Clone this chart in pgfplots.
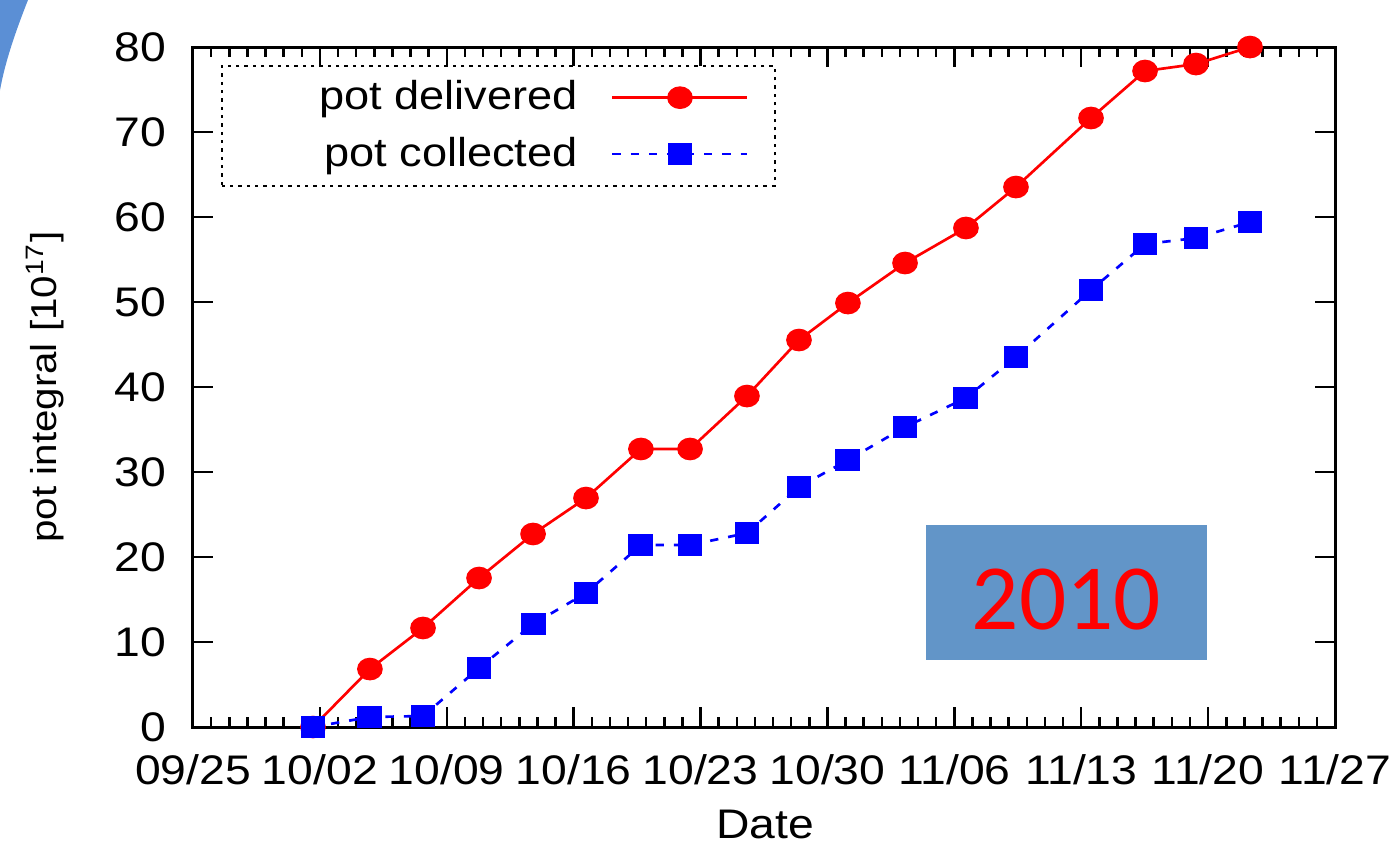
\documentclass[border=0pt]{standalone}
\usepackage{fontspec}
\setmainfont{Liberation Sans}[FakeStretch=1.12]
\newfontfamily\carlito{Carlito}
\usepackage{pgfplots}
\pgfplotsset{compat=1.18}
\definecolor{boxblue}{RGB}{98,149,200}
\definecolor{decoblue}{RGB}{91,143,213}
\newcommand\fs{\fontsize{12.4}{14}\selectfont}
\newcommand\fsl{\fontsize{12.1}{14}\selectfont}
\newcommand\fsy{\fontsize{10.8}{13}\selectfont}

\begin{document}
\begin{tikzpicture}[x=1pt,y=1pt]
\path[use as bounding box] (-57.9,-34.8) rectangle (361.5,218.1);
\fill[decoblue] (-57.9,218.1) -- (-49.5,218.1) .. controls (-53.5,208) and (-56.5,199) .. (-57.9,191) -- cycle;
\begin{axis}[
  at={(0,0)}, anchor=south west, scale only axis,
  width=342.6pt, height=204pt,
  xmin=0, xmax=63, ymin=0, ymax=80,
  clip=false,
  xtick={0,7,...,63},
  xticklabels={09/25,10/02,10/09,10/16,10/23,10/30,11/06,11/13,11/20,11/27},
  minor x tick num=6,
  ytick={0,10,...,80},
  axis line style={line width=0.9pt},
  major tick length=6pt, minor tick length=3pt,
  tick style={black, line width=0.75pt},
  tick label style={font=\fs},
  /pgf/number format/assume math mode=true,
  xticklabel style={anchor=base, inner sep=0pt, yshift=-17.1pt},
  yticklabel style={anchor=east, inner sep=0pt, xshift=-7.8pt},
  xlabel={Date}, ylabel={pot integral [10\textsuperscript{17}]},
  xlabel style={font=\fs, at={(axis description cs:0.501,-0.144)}, anchor=center},
  ylabel style={font=\fsy, at={(axis description cs:-0.1296,0.5)}, anchor=center},
  legend plot pos=right,
  legend cell align=right,
  legend style={at={(axis description cs:0.0245,0.9735)}, anchor=north west,
    draw=black, line width=0.5pt, dash pattern=on 1pt off 1.5pt, fill=white,
    inner xsep=7.8pt, inner ysep=4.4pt, row sep=6.6pt, column sep=10pt,
    font=\fsl, nodes={inner sep=0pt}},
  legend image code/.code={\draw[mark repeat=2,mark phase=2,#1] plot coordinates {(0pt,0pt) (20.25pt,0pt) (40.5pt,0pt)};},
]
\addplot[color=red, solid, line width=0.8pt, mark=*, mark size=3pt,
  mark options={solid, fill=red, draw=red, xscale=1.15}] table {
x y
6.62 0
9.76 6.82
12.69 11.65
15.78 17.53
18.76 22.71
21.68 26.94
24.71 32.71
27.42 32.71
30.56 38.94
33.43 45.53
36.13 49.88
39.28 54.59
42.64 58.71
45.40 63.53
49.54 71.65
52.52 77.18
55.33 78.00
58.31 80.00
};
\addlegendentry{\makebox[99pt][r]{pot delivered}}
\addplot[color=blue, line width=0.8pt, dash pattern=on 2.5pt off 3pt, mark=square*, mark size=2.9pt,
  mark options={solid, fill=blue, draw=blue, xscale=1.15}] table {
x y
6.62 0
9.76 1.18
12.69 1.29
15.78 6.94
18.76 12.12
21.68 15.76
24.71 21.41
27.42 21.41
30.56 22.82
33.43 28.24
36.13 31.41
39.28 35.29
42.64 38.71
45.40 43.53
49.54 51.41
52.52 56.82
55.33 57.53
58.31 59.41
};
\addlegendentry{\makebox[99pt][r]{pot collected}}
\node[fill=boxblue, minimum width=84.3pt, minimum height=40.5pt, inner sep=0pt,
  text=red, font=\carlito\fontsize{28}{28}\selectfont, text height=21.9pt, text depth=0pt]
  at (axis description cs:0.7649,0.1978) {2010};
\end{axis}
\end{tikzpicture}
\end{document}
